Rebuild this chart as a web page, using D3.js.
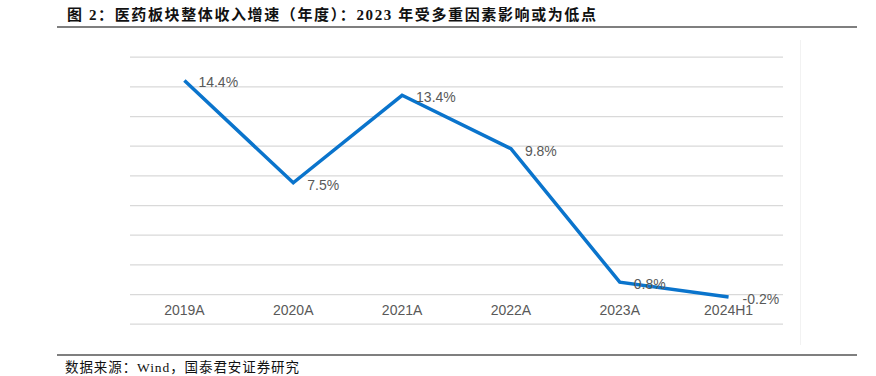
<html>
<head>
<meta charset="utf-8">
<style>
  body { margin: 0; background: #fff; }
  svg { display: block; }
</style>
</head>
<body>
<svg id="container" width="876" height="376"></svg>
<script src="https://cdn.jsdelivr.net/npm/d3@7"></script>
<script>
    // data
    let years = ["2019A", "2020A", "2021A", "2022A", "2023A", "2024H1"]
    let growth = [14.4, 7.5, 13.4, 9.8, 0.8, -0.2]
    let gridTicks = [-2, 0, 2, 4, 6, 8, 10, 12, 14, 16]

    let title = "图 2：医药板块整体收入增速（年度）：2023 年受多重因素影响或为低点"
    let source = "数据来源：Wind，国泰君安证券研究"

    let svg = d3.select("#container")
    let serif = "'Liberation Serif', 'Noto Sans CJK SC', serif"
    let sans = "Arial, 'Liberation Sans', Helvetica, sans-serif"

    // title and rules
    svg.append("text")
        .attr("x", 67).attr("y", 20)
        .attr("textLength", 529)
        .attr("lengthAdjust", "spacing")
        .style("font-family", serif)
        .style("font-weight", "bold")
        .style("font-size", "15px")
        .style("fill", "#111")
        .text(title)
    svg.append("line")
        .attr("x1", 57).attr("x2", 857).attr("y1", 27).attr("y2", 27)
        .style("stroke", "#555").style("stroke-width", 1.5)
    svg.append("line")
        .attr("x1", 57).attr("x2", 857).attr("y1", 355).attr("y2", 355)
        .style("stroke", "#555").style("stroke-width", 1.5)
    svg.append("text")
        .attr("x", 65).attr("y", 372)
        .attr("textLength", 234)
        .attr("lengthAdjust", "spacing")
        .style("font-family", serif)
        .style("font-size", "13.5px")
        .style("fill", "#111")
        .text(source)

    // faint frame line on the right
    svg.append("line")
        .attr("x1", 800.5).attr("x2", 800.5).attr("y1", 40).attr("y2", 345)
        .style("stroke", "#f2f2f2").style("stroke-width", 1)

    let x = d3.scaleBand()
        .range([130, 783])
        .domain(years)
    let y = d3.scaleLinear()
        .range([323.7, 56.7])
        .domain([-2, 16])

    let grid = d3.axisLeft(y)
        .tickValues(gridTicks)
        .tickSize(-(783 - 130))
        .tickFormat("")
    svg.append("g")
        .attr("transform", "translate(130,0)")
        .call(grid)
        .call(g => g.select(".domain").remove())
        .call(g => g.selectAll(".tick line").style("stroke", "#d9d9d9").style("stroke-width", 1.2))

    let xAxis = d3.axisBottom(x).tickSize(0).tickPadding(0)
    svg.append("g")
        .attr("transform", "translate(0," + y(0) + ")")
        .call(xAxis)
        .call(g => g.select(".domain").remove())
        .call(g => g.selectAll("text")
            .attr("dy", "1.05em")
            .attr("y", 6)
            .style("font-family", sans)
            .style("font-size", "14px")
            .style("fill", "#595959"))

    let line = d3.line()
        .x((d, i) => x(years[i]) + x.bandwidth() / 2)
        .y(d => y(d))

    svg.append("path")
        .datum(growth)
        .attr("d", line)
        .style("fill", "none")
        .style("stroke", "#0a74cc")
        .style("stroke-width", 3.5)
        .style("stroke-linejoin", "miter")

    svg.selectAll(".lbl")
        .data(growth)
        .enter()
        .append("text")
        .attr("class", "lbl")
        .attr("x", (d, i) => x(years[i]) + x.bandwidth() / 2 + 14)
        .attr("y", d => y(d) + 7)
        .style("font-family", sans)
        .style("font-size", "14px")
        .style("fill", "#595959")
        .text(d => d.toFixed(1) + "%")
</script>
</body>
</html>
